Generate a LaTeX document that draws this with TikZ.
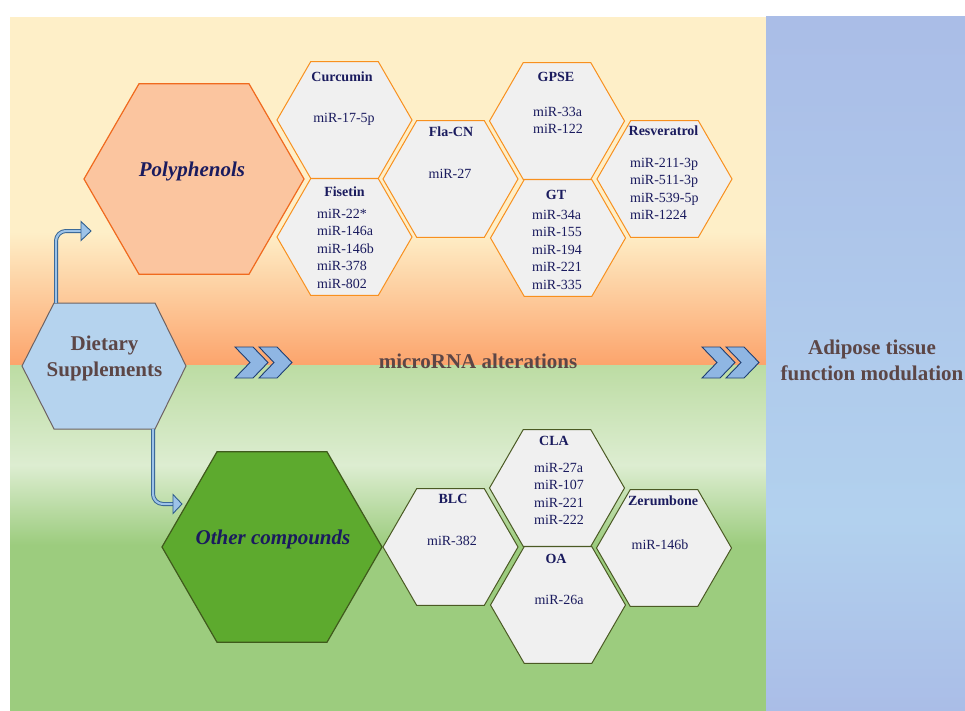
\documentclass[tikz,border=0pt]{standalone}
\usepackage{fontspec}
\setmainfont{Liberation Serif}
\usepackage{xcolor}
\usetikzlibrary{shapes.geometric}

\definecolor{navytext}{HTML}{1A1B5E}
\definecolor{browntext}{HTML}{5C4646}
\definecolor{polyfill}{HTML}{FBC59F}
\definecolor{polyline}{HTML}{F06A1E}
\definecolor{smallorange}{HTML}{F8901E}
\definecolor{hexgrey}{HTML}{F0F0F0}
\definecolor{dsfill}{HTML}{B5D3EE}
\definecolor{dsline}{HTML}{6E6262}
\definecolor{ocfill}{HTML}{5DAA2E}
\definecolor{ocline}{HTML}{3F5A1C}
\definecolor{smallgreen}{HTML}{4B5A24}
\definecolor{bgyellow}{HTML}{FEEFC8}
\definecolor{bgorange}{HTML}{FCA46C}
\definecolor{greenA}{HTML}{BCDCA3}
\definecolor{greenB}{HTML}{DDEDD1}
\definecolor{greenC}{HTML}{9CCC7E}
\definecolor{panelblue}{HTML}{AABDE7}
\definecolor{panelmid}{HTML}{B2D1EE}
\definecolor{pipefill}{HTML}{9DC3E8}
\definecolor{pipeline}{HTML}{2F5E8E}
\definecolor{chevfill}{HTML}{8FB6E3}
\definecolor{chevline}{HTML}{1F3F73}

\begin{document}
\begin{tikzpicture}[x=1pt, y=-1pt,
    bighex/.style={regular polygon, regular polygon sides=6, minimum size=220pt, inner sep=0pt, line width=1.2pt},
    smallhex/.style={regular polygon, regular polygon sides=6, minimum size=135pt, inner sep=0pt, fill=hexgrey, line width=1pt},
    head/.style={inner sep=0pt, anchor=north, text=navytext, font=\fontsize{14}{17.5}\selectfont\bfseries},
    mir/.style={inner sep=0pt, anchor=north, text=navytext, font=\fontsize{14}{17.5}\selectfont},
    mirlist/.style={mir, anchor=north west, align=left},
    biglabel/.style={inner sep=0pt, text=navytext, font=\fontsize{21}{26}\selectfont\bfseries\itshape},
    steplabel/.style={inner sep=0pt, text=browntext, align=center, font=\fontsize{21}{26}\selectfont\bfseries},
    pipe/.style={draw=pipeline, double=pipefill, double distance=2.2pt, line width=0.9pt, rounded corners=10pt},
    pipehead/.style={fill=pipefill, draw=pipeline, line width=0.9pt, line join=miter},
    chev/.style={fill=chevfill, draw=chevline, line width=0.9pt, line join=miter}]
\useasboundingbox (0,0) rectangle (965,711);
\fill[white] (0,0) rectangle (965,711);

% background bands
\fill[bgyellow] (10,17) rectangle (766,232);
\shade[top color=bgyellow, bottom color=bgorange] (10,232) rectangle (766,365);
\shade[top color=greenA, bottom color=greenB] (10,365) rectangle (766,465);
\shade[top color=greenB, bottom color=greenC] (10,465) rectangle (766,545);
\fill[greenC] (10,545) rectangle (766,711);
\shade[top color=panelblue, bottom color=panelmid] (766,17) rectangle (965,520);
\shade[top color=panelmid, bottom color=panelblue] (766,520) rectangle (965,711);

% polyphenol hexagons
\node[smallhex, draw=smallorange] (cur) at (344.5,120) {};
\node[smallhex, draw=smallorange] (fis) at (344.5,237) {};
\node[smallhex, draw=smallorange] (fla) at (450.5,179) {};
\node[smallhex, draw=smallorange] (gpse) at (557,121) {};
\node[smallhex, draw=smallorange] (gt) at (558,238) {};
\node[smallhex, draw=smallorange] (res) at (664.5,179) {};
\node[bighex, fill=polyfill, draw=polyline] (poly) at (194,179) {};

% other compound hexagons
\node[smallhex, draw=smallgreen] (blc) at (450.5,547) {};
\node[smallhex, draw=smallgreen] (cla) at (557,488) {};
\node[smallhex, draw=smallgreen] (oa) at (558,605) {};
\node[smallhex, draw=smallgreen] (zer) at (664,548) {};
\node[bighex, fill=ocfill, draw=ocline] (oc) at (272,547) {};

% dietary supplements hexagon
\filldraw[fill=dsfill, draw=dsline, line width=1pt] (22,366) -- (54,303) -- (155,303) -- (186,366) -- (155,429) -- (54,429) -- cycle;
\node[steplabel, anchor=north] (ds) at (104.5,336) {Dietary\\Supplements};

% big labels
\node[biglabel, anchor=base] (polylab) at (192,177) {Polyphenols};
\node[biglabel, anchor=base] (oclab) at (273,544) {Other compounds};
\node[steplabel, anchor=base] (mirna) at (478,368) {microRNA alterations};
\node[steplabel, anchor=north] (adipose) at (872,340) {Adipose tissue\\function modulation};

% compound names and microRNAs
\node[head] (curlab) at (342,72) {Curcumin};
\node[mir] (curmir) at (344,113) {miR-17-5p};
\node[head] (fislab) at (344.5,187) {Fisetin};
\node[mirlist] (fismir) at (317,209) {miR-22*\\miR-146a\\miR-146b\\miR-378\\miR-802};
\node[head] (flalab) at (451,127) {Fla-CN};
\node[mir] (flamir) at (450,169) {miR-27};
\node[head] (gpselab) at (556,72) {GPSE};
\node[mirlist] (gpsemir) at (533,107) {miR-33a\\miR-122};
\node[head] (gtlab) at (556,190) {GT};
\node[mirlist] (gtmir) at (532,210) {miR-34a\\miR-155\\miR-194\\miR-221\\miR-335};
\node[head] (reslab) at (663.5,126) {Resveratrol};
\node[mirlist] (resmir) at (630,158) {miR-211-3p\\miR-511-3p\\miR-539-5p\\miR-1224};
\node[head] (clalab) at (554,436) {CLA};
\node[mirlist] (clamir) at (534,463) {miR-27a\\miR-107\\miR-221\\miR-222};
\node[head] (blclab) at (453,494) {BLC};
\node[mir] (blcmir) at (452,536) {miR-382};
\node[head] (oalab) at (556,554) {OA};
\node[mir] (oamir) at (559,595) {miR-26a};
\node[head] (zerlab) at (663,496) {Zerumbone};
\node[mir] (zermir) at (660,540) {miR-146b};

% bent arrows out of the dietary hexagon
\coordinate (ds-top) at (56,303);
\coordinate (up-end) at (81,231);
\coordinate (ds-bot) at (153,429);
\coordinate (low-end) at (173,504);
\draw[pipe] (ds-top) |- (up-end);
\draw[pipe] (ds-bot) |- (low-end);
\filldraw[pipehead] (up-end) ++(0,-9.5) -- ++(10,9.5) -- ++(-10,9.5) -- cycle;
\filldraw[pipehead] (low-end) ++(0,-9.5) -- ++(9,9.5) -- ++(-9,9.5) -- cycle;

% chevrons
\foreach \x in {235,259,702,726}
  \filldraw[chev] (\x,347) -- ++(18,0) -- ++(15,15.5) -- ++(-15,15.5) -- ++(-18,0) -- ++(15,-15.5) -- cycle;
\end{tikzpicture}
\end{document}
